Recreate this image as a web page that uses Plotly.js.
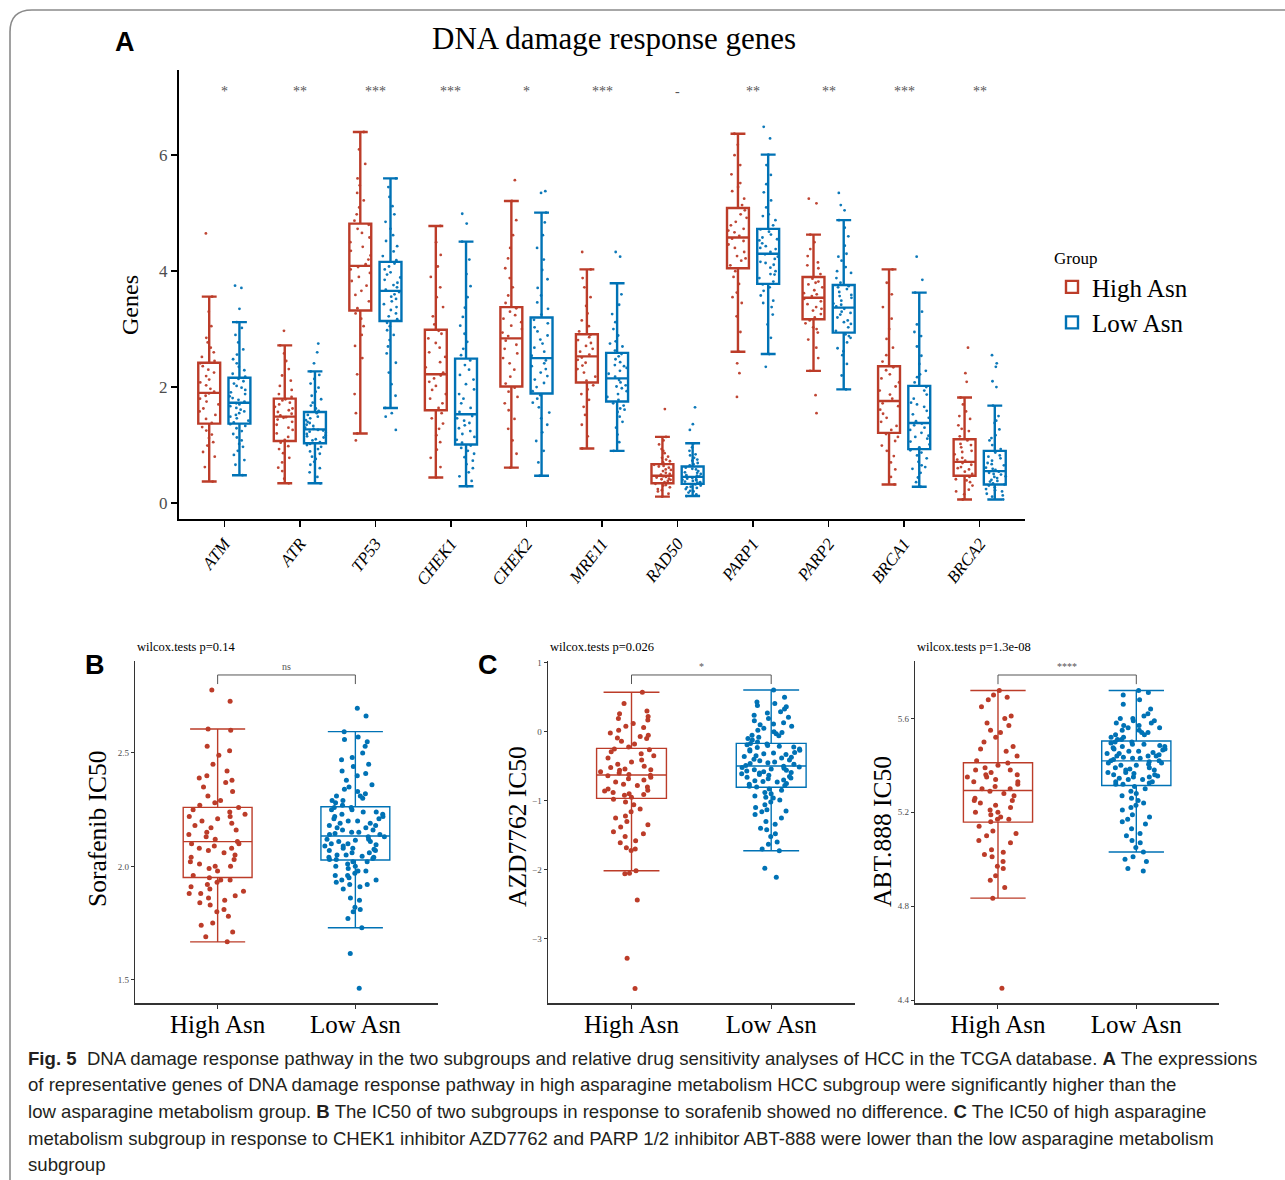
<!DOCTYPE html>
<html>
<head>
<meta charset="utf-8">
<script src="https://cdn.plot.ly/plotly-3.0.1.min.js"></script>
<style>
html,body{margin:0;padding:0;background:#fff;}
#chart{width:1285px;height:1180px;}
</style>
</head>
<body>
<div id="chart"></div>
<script>
// ---------------- Panel A data ----------------
const genes = ['ATM','ATR','TP53','CHEK1','CHEK2','MRE11','RAD50','PARP1','PARP2','BRCA1','BRCA2'];
const sigLabels = ['*','**','***','***','*','***','-','**','**','***','**'];
const groupNames = ['High Asn','Low Asn'];

const highLower  = [0.37,0.34,1.20,0.44,0.61,0.94,0.11,2.61,2.28,0.32,0.06];
const highQ1     = [1.37,1.07,3.32,1.60,2.01,2.08,0.34,4.05,3.17,1.21,0.47];
const highMedian = [1.90,1.49,4.09,2.22,2.84,2.53,0.47,4.58,3.54,1.76,0.71];
const highQ3     = [2.42,1.80,4.82,2.99,3.38,2.91,0.67,5.09,3.90,2.36,1.10];
const highUpper  = [3.56,2.72,6.40,4.78,5.21,4.03,1.14,6.37,4.63,4.03,1.82];

const lowLower  = [0.48,0.34,1.64,0.29,0.47,0.90,0.12,2.57,1.96,0.28,0.06];
const lowQ1     = [1.37,1.03,3.14,1.01,1.89,1.75,0.33,3.78,2.94,0.93,0.32];
const lowMedian = [1.73,1.27,3.66,1.53,2.50,2.15,0.45,4.30,3.37,1.38,0.55];
const lowQ3     = [2.16,1.57,4.16,2.49,3.20,2.59,0.63,4.73,3.76,2.02,0.90];
const lowUpper  = [3.12,2.27,5.60,4.51,5.01,3.79,1.03,6.01,4.88,3.63,1.68];

// sample points (one list per gene, same order as genes)
const highPoints = [
 [0.37,0.62,0.80,0.88,0.99,1.05,1.12,1.18,1.25,1.31,1.38,1.45,1.52,1.58,1.63,1.70,1.75,1.80,1.85,1.89,1.92,1.97,2.03,2.08,2.13,2.19,2.25,2.30,2.36,2.41,2.45,2.52,2.60,2.68,2.77,2.85,3.05,3.30,3.56,4.65],
 [0.34,0.42,0.55,0.61,0.70,0.78,0.86,0.93,0.98,1.04,1.09,1.14,1.20,1.26,1.30,1.35,1.40,1.44,1.47,1.48,1.51,1.54,1.57,1.60,1.63,1.66,1.70,1.73,1.77,1.79,1.83,1.88,1.95,2.02,2.11,2.20,2.31,2.45,2.58,2.72,2.97],
 [1.08,1.20,1.55,1.88,2.22,2.50,2.71,2.90,3.05,3.18,3.27,3.36,3.48,3.59,3.66,3.75,3.83,3.90,3.97,4.03,4.07,4.12,4.20,4.27,4.35,4.42,4.50,4.58,4.66,4.73,4.80,4.87,4.98,5.10,5.22,5.35,5.48,5.60,5.85,6.10,6.40],
 [0.44,0.62,0.78,0.92,1.05,1.17,1.28,1.37,1.46,1.55,1.64,1.72,1.80,1.88,1.95,2.02,2.09,2.15,2.20,2.25,2.34,2.43,2.52,2.60,2.68,2.76,2.84,2.92,2.97,3.08,3.22,3.38,3.55,3.72,3.90,4.08,4.28,4.50,4.78],
 [0.61,0.85,1.08,1.28,1.45,1.60,1.72,1.83,1.92,1.99,2.06,2.18,2.30,2.41,2.50,2.58,2.66,2.73,2.80,2.88,2.94,3.00,3.06,3.12,3.18,3.24,3.30,3.36,3.45,3.58,3.72,3.88,4.05,4.22,4.40,4.62,4.88,5.21,5.57],
 [0.94,1.15,1.35,1.52,1.66,1.78,1.88,1.96,2.03,2.11,2.18,2.25,2.31,2.37,2.42,2.47,2.51,2.56,2.61,2.66,2.71,2.76,2.81,2.86,2.90,2.96,3.05,3.15,3.27,3.40,3.55,3.72,3.88,4.03,4.33],
 [0.11,0.16,0.20,0.22,0.24,0.27,0.30,0.31,0.33,0.36,0.38,0.40,0.41,0.42,0.44,0.45,0.46,0.49,0.50,0.52,0.55,0.57,0.58,0.61,0.63,0.64,0.66,0.70,0.72,0.75,0.78,0.80,0.86,0.90,0.93,1.01,1.08,1.14,1.62],
 [1.83,2.24,2.41,2.61,2.95,3.22,3.45,3.55,3.63,3.78,3.90,4.00,4.10,4.18,4.22,4.26,4.33,4.40,4.46,4.52,4.56,4.61,4.67,4.70,4.73,4.79,4.85,4.92,4.98,5.05,5.14,5.25,5.38,5.45,5.52,5.67,5.83,6.00,6.18,6.37],
 [1.55,1.86,2.28,2.50,2.68,2.82,2.94,3.00,3.03,3.10,3.15,3.20,3.26,3.32,3.35,3.38,3.43,3.48,3.52,3.57,3.60,3.62,3.67,3.72,3.77,3.80,3.82,3.87,3.95,4.05,4.10,4.15,4.26,4.38,4.50,4.63,5.17,5.25],
 [0.32,0.45,0.58,0.70,0.81,0.90,0.99,1.07,1.14,1.19,1.26,1.33,1.40,1.47,1.54,1.61,1.67,1.72,1.80,1.87,1.94,2.01,2.08,2.15,2.22,2.29,2.34,2.44,2.55,2.68,2.83,3.00,3.18,3.38,3.60,3.80,4.03],
 [0.06,0.15,0.20,0.23,0.30,0.36,0.39,0.41,0.45,0.50,0.54,0.58,0.60,0.62,0.66,0.69,0.73,0.75,0.78,0.84,0.88,0.90,0.96,1.00,1.02,1.08,1.15,1.24,1.28,1.34,1.45,1.50,1.58,1.70,1.82,2.09,2.24,2.68]
];
const lowPoints = [
 [0.48,0.66,0.74,0.83,0.90,0.97,1.02,1.08,1.13,1.19,1.24,1.29,1.33,1.36,1.39,1.42,1.46,1.49,1.52,1.55,1.58,1.61,1.64,1.67,1.70,1.72,1.75,1.78,1.81,1.84,1.88,1.91,1.95,1.99,2.02,2.06,2.10,2.14,2.18,2.23,2.29,2.35,2.41,2.48,2.56,2.65,2.77,2.90,3.02,3.12,3.35,3.71,3.75],
 [0.34,0.45,0.53,0.60,0.66,0.71,0.76,0.80,0.85,0.89,0.93,0.97,1.00,1.02,1.05,1.08,1.10,1.13,1.15,1.17,1.19,1.21,1.23,1.25,1.26,1.28,1.30,1.33,1.35,1.38,1.40,1.43,1.46,1.49,1.52,1.55,1.59,1.63,1.68,1.73,1.79,1.85,1.92,1.99,2.06,2.14,2.21,2.27,2.41,2.60,2.75],
 [1.26,1.49,1.55,1.64,1.85,2.05,2.25,2.42,2.58,2.70,2.81,2.90,2.98,3.05,3.11,3.17,3.22,3.27,3.33,3.38,3.43,3.48,3.52,3.56,3.60,3.64,3.68,3.72,3.76,3.80,3.85,3.89,3.94,3.98,4.03,4.08,4.13,4.19,4.26,4.34,4.43,4.52,4.62,4.73,4.85,4.98,5.12,5.28,5.45,5.60],
 [0.29,0.38,0.46,0.53,0.60,0.67,0.73,0.79,0.85,0.90,0.95,0.99,1.04,1.09,1.14,1.19,1.24,1.29,1.34,1.38,1.42,1.46,1.50,1.57,1.64,1.72,1.80,1.88,1.96,2.05,2.13,2.21,2.30,2.38,2.46,2.55,2.66,2.78,2.92,3.06,3.21,3.37,3.55,3.74,3.95,4.20,4.51,4.82,4.99],
 [0.47,0.70,0.90,1.07,1.22,1.35,1.46,1.56,1.65,1.73,1.80,1.86,1.93,2.00,2.07,2.13,2.19,2.25,2.31,2.36,2.41,2.46,2.54,2.61,2.68,2.75,2.82,2.89,2.96,3.03,3.10,3.16,3.25,3.35,3.46,3.58,3.71,3.86,4.02,4.20,4.40,4.62,4.84,5.01,5.35,5.38],
 [0.90,1.05,1.18,1.30,1.40,1.49,1.57,1.61,1.63,1.68,1.72,1.78,1.83,1.88,1.93,1.98,2.01,2.03,2.08,2.12,2.18,2.23,2.28,2.33,2.36,2.38,2.43,2.48,2.53,2.57,2.63,2.70,2.75,2.79,2.89,3.00,3.12,3.26,3.42,3.60,3.79,4.25,4.33],
 [0.12,0.15,0.18,0.20,0.21,0.24,0.26,0.27,0.28,0.30,0.32,0.34,0.35,0.36,0.37,0.38,0.39,0.40,0.41,0.42,0.43,0.44,0.46,0.47,0.48,0.50,0.52,0.53,0.55,0.58,0.59,0.61,0.65,0.67,0.69,0.73,0.75,0.78,0.82,0.84,0.90,0.96,1.03,1.26,1.36,1.65],
 [2.35,2.57,2.85,3.08,3.25,3.38,3.45,3.49,3.58,3.66,3.72,3.77,3.82,3.88,3.94,3.95,4.00,4.06,4.11,4.14,4.16,4.21,4.25,4.29,4.33,4.38,4.40,4.43,4.48,4.53,4.55,4.58,4.63,4.68,4.72,4.79,4.88,4.95,4.98,5.10,5.22,5.36,5.50,5.66,5.83,6.01,6.29,6.49],
 [1.96,2.20,2.40,2.55,2.62,2.67,2.77,2.85,2.88,2.91,2.97,3.03,3.09,3.12,3.15,3.20,3.25,3.28,3.30,3.35,3.39,3.42,3.44,3.49,3.54,3.57,3.59,3.64,3.69,3.72,3.74,3.80,3.88,3.97,4.00,4.07,4.18,4.25,4.30,4.44,4.60,4.75,4.88,5.05,5.14,5.35],
 [0.28,0.36,0.44,0.52,0.59,0.62,0.65,0.71,0.77,0.82,0.87,0.91,0.96,1.01,1.06,1.11,1.14,1.16,1.21,1.26,1.30,1.34,1.37,1.41,1.47,1.53,1.59,1.66,1.70,1.73,1.80,1.87,1.94,2.00,2.08,2.17,2.22,2.28,2.40,2.54,2.70,2.88,2.95,3.08,3.30,3.63,3.85,4.25],
 [0.06,0.11,0.13,0.16,0.20,0.22,0.24,0.27,0.30,0.32,0.34,0.37,0.38,0.40,0.43,0.45,0.46,0.49,0.50,0.52,0.54,0.57,0.59,0.61,0.65,0.67,0.69,0.73,0.77,0.80,0.82,0.87,0.93,1.00,1.08,1.12,1.17,1.27,1.38,1.42,1.50,1.68,2.00,2.10,2.35,2.41,2.55]
];

// ---------------- Panels B / C data ----------------
// box stats order: [lowerfence, q1, median, q3, upperfence]
const sorafenibHighBox = [1.667,1.951,2.109,2.260,2.606];
const sorafenibLowBox  = [1.729,2.028,2.134,2.263,2.594];
const azdHighBox = [-2.014,-0.966,-0.628,-0.241,0.571];
const azdLowBox  = [-1.725,-0.806,-0.497,-0.169,0.604];
const abtHighBox = [4.834,5.158,5.293,5.411,5.719];
const abtLowBox  = [5.031,5.314,5.419,5.504,5.719];

const sorafenibHigh = [1.667,1.69,1.71,1.74,1.75,1.78,1.80,1.81,1.83,1.84,1.85,1.86,1.87,1.88,1.88,1.89,1.90,1.91,1.92,1.93,1.94,1.94,1.95,1.96,1.98,1.99,2.00,2.00,2.01,2.02,2.03,2.04,2.05,2.06,2.07,2.08,2.08,2.09,2.10,2.10,2.11,2.12,2.13,2.14,2.15,2.16,2.17,2.18,2.19,2.20,2.21,2.22,2.22,2.23,2.24,2.25,2.26,2.27,2.28,2.29,2.31,2.33,2.35,2.37,2.38,2.39,2.40,2.42,2.45,2.49,2.51,2.53,2.60,2.606,2.728,2.778];
const sorafenibLow = [1.462,1.616,1.729,1.77,1.80,1.81,1.82,1.85,1.86,1.90,1.91,1.92,1.92,1.93,1.94,1.94,1.95,1.96,1.96,1.97,1.98,1.98,1.99,2.00,2.00,2.01,2.02,2.02,
 2.03,2.03,2.035,2.04,2.04,2.045,2.05,2.05,2.06,2.06,2.07,2.07,2.075,2.08,2.08,2.09,2.09,2.095,2.10,2.10,2.11,2.11,2.115,2.12,2.12,2.13,2.13,
 2.14,2.14,2.145,2.15,2.15,2.16,2.16,2.17,2.17,2.18,2.18,2.19,2.19,2.20,2.20,2.21,2.21,2.22,2.22,2.23,2.23,2.24,2.24,2.25,2.25,2.26,2.26,
 2.27,2.28,2.29,2.29,2.30,2.31,2.31,2.32,2.33,2.34,2.35,2.36,2.38,2.40,2.41,2.42,2.44,2.45,2.47,2.48,2.50,2.53,2.55,2.56,2.57,2.594,2.663,2.697];
const azdHigh = [-3.72,-3.284,-2.44,-2.06,-2.05,-2.014,-1.72,-1.70,-1.68,-1.61,-1.58,-1.52,-1.48,-1.45,-1.38,-1.35,-1.30,-1.25,-1.22,-1.16,-1.12,-1.06,-1.02,-0.98,
 -0.95,-0.92,-0.91,-0.90,-0.88,-0.86,-0.85,-0.83,-0.80,-0.78,-0.76,-0.73,-0.70,-0.68,-0.66,-0.64,-0.63,
 -0.62,-0.60,-0.58,-0.56,-0.55,-0.54,-0.52,-0.50,-0.47,-0.44,-0.41,-0.38,-0.35,-0.32,-0.29,-0.26,-0.25,
 -0.22,-0.18,-0.14,-0.10,-0.09,-0.07,-0.05,-0.02,0.02,0.06,0.08,0.12,0.17,0.19,0.22,0.26,0.30,0.41,0.571];
const azdLow = [-2.11,-1.98,-1.725,-1.70,-1.63,-1.60,-1.52,-1.48,-1.42,-1.40,-1.34,-1.30,-1.25,-1.20,-1.16,-1.15,-1.13,-1.10,-1.06,-1.02,-0.99,-0.96,-0.95,-0.93,-0.90,-0.88,-0.85,-0.83,
 -0.80,-0.79,-0.78,-0.76,-0.75,-0.73,-0.72,-0.71,-0.70,-0.68,-0.67,-0.66,-0.65,-0.63,-0.62,-0.61,-0.60,-0.59,-0.58,-0.57,-0.56,-0.55,-0.54,-0.53,-0.52,-0.51,-0.50,
 -0.49,-0.47,-0.46,-0.45,-0.44,-0.42,-0.41,-0.40,-0.38,-0.37,-0.36,-0.35,-0.33,-0.32,-0.31,-0.30,-0.28,-0.27,-0.26,-0.25,-0.23,-0.22,-0.21,-0.20,-0.19,-0.18,-0.17,
 -0.15,-0.12,-0.10,-0.08,-0.06,-0.05,-0.03,-0.01,0.00,0.02,0.05,0.08,0.10,0.11,0.13,0.16,0.19,0.21,0.24,0.27,0.29,0.33,0.36,0.38,0.41,0.43,0.50,0.604];
const abtHigh = [4.45,4.834,4.88,4.91,4.93,4.96,4.97,4.99,5.01,5.02,5.03,5.04,5.07,5.08,5.10,5.11,5.12,5.14,
 5.16,5.17,5.17,5.18,5.19,5.20,5.20,5.21,5.22,5.23,5.24,5.25,5.25,5.26,5.27,5.28,5.29,
 5.30,5.30,5.31,5.32,5.33,5.33,5.34,5.35,5.35,5.36,5.36,5.37,5.38,5.38,5.39,5.40,5.41,
 5.42,5.44,5.46,5.47,5.48,5.50,5.52,5.54,5.55,5.57,5.58,5.60,5.61,5.65,5.68,5.69,5.70,5.719];
const abtLow = [4.95,4.96,4.99,5.00,5.01,5.031,5.05,5.07,5.08,5.10,5.11,5.13,5.15,5.16,5.17,5.18,5.19,5.21,5.22,5.23,5.24,5.25,5.26,5.27,5.28,5.29,5.30,5.31,
 5.32,5.32,5.325,5.33,5.33,5.34,5.34,5.345,5.35,5.35,5.355,5.36,5.36,5.365,5.37,5.37,5.38,5.38,5.385,5.39,5.39,5.40,5.40,5.405,5.41,5.41,5.415,
 5.42,5.42,5.425,5.43,5.43,5.435,5.44,5.44,5.44,5.445,5.45,5.45,5.455,5.46,5.46,5.465,5.47,5.47,5.475,5.48,5.48,5.485,5.49,5.49,5.495,5.50,5.50,
 5.51,5.51,5.52,5.52,5.53,5.53,5.54,5.54,5.55,5.55,5.56,5.56,5.57,5.57,5.58,5.58,5.59,5.59,5.60,5.60,5.61,5.62,5.64,5.66,5.68,5.70,5.71,5.719];

const pTexts = ['wilcox.tests p=0.14','wilcox.tests p=0.026','wilcox.tests p=1.3e-08'];
const drugSig = ['ns','*','****'];
const drugTitles = ['Sorafenib IC50','AZD7762 IC50','ABT.888 IC50'];

// ---------------- Build figure ----------------
const RED = '#BC3C29', BLUE = '#0072B5';
const SERIF = 'Liberation Serif, Times New Roman, serif';
const traces = [];

function flat(cats, lists){
  const xs=[], ys=[];
  cats.forEach((c,i)=>lists[i].forEach(v=>{xs.push(c); ys.push(v);}));
  return {xs, ys};
}

// Panel A stats boxes
[[groupNames[0],RED,'hi',highLower,highQ1,highMedian,highQ3,highUpper],
 [groupNames[1],BLUE,'lo',lowLower,lowQ1,lowMedian,lowQ3,lowUpper]].forEach(s=>{
  traces.push({
    type:'box', name:s[0], x:genes, lowerfence:s[3], q1:s[4], median:s[5], q3:s[6], upperfence:s[7],
    boxpoints:false, line:{color:s[1], width:2.4}, fillcolor:'rgba(255,255,255,0)',
    whiskerwidth:0.68, offsetgroup:s[2], alignmentgroup:'A', xaxis:'x', yaxis:'y',
    showlegend:true, hoverinfo:'skip'
  });
});
// Panel A jittered points
[[highPoints,RED,'hi'],[lowPoints,BLUE,'lo']].forEach(s=>{
  const f = flat(genes, s[0]);
  traces.push({
    type:'box', x:f.xs, y:f.ys, boxpoints:'all', jitter:1, pointpos:0,
    marker:{color:s[1], size:2.8, opacity:0.95},
    line:{color:'rgba(0,0,0,0)', width:0}, fillcolor:'rgba(0,0,0,0)',
    offsetgroup:s[2], alignmentgroup:'A', xaxis:'x', yaxis:'y',
    showlegend:false, hoverinfo:'skip'
  });
});

// Panels B / C
const drugData = [
  [sorafenibHigh, sorafenibLow, sorafenibHighBox, sorafenibLowBox],
  [azdHigh, azdLow, azdHighBox, azdLowBox],
  [abtHigh, abtLow, abtHighBox, abtLowBox]
];
drugData.forEach((d,k)=>{
  const xa = 'x'+(k+2), ya = 'y'+(k+2);
  [[0,RED],[1,BLUE]].forEach(([g,col])=>{
    const b = d[2+g];
    traces.push({
      type:'box', x:[groupNames[g]], lowerfence:[b[0]], q1:[b[1]], median:[b[2]], q3:[b[3]], upperfence:[b[4]],
      boxpoints:false, width:0.5, whiskerwidth:0.8, line:{color:col, width:1.4},
      fillcolor:'rgba(255,255,255,0)', xaxis:xa, yaxis:ya, offsetgroup:'d'+k, alignmentgroup:'d'+k,
      showlegend:false, hoverinfo:'skip'
    });
  });
  [[0,RED],[1,BLUE]].forEach(([g,col])=>{
    const pts = d[g];
    traces.push({
      type:'box', x:pts.map(()=>groupNames[g]), y:pts, boxpoints:'all', jitter:0.9, pointpos:0, width:0.5,
      marker:{color:col, size:5}, line:{color:'rgba(0,0,0,0)', width:0}, fillcolor:'rgba(0,0,0,0)',
      xaxis:xa, yaxis:ya, offsetgroup:'d'+k, alignmentgroup:'d'+k, showlegend:false, hoverinfo:'skip'
    });
  });
});

// ---------------- Layout ----------------
const W = 1285, H = 1180;
const px = v => v / W;
const py = v => 1 - v / H;

const smallAxis = (dom) => ({
  domain: dom, type:'category', categoryorder:'array', categoryarray: groupNames,
  range:[-0.6,1.6], autorange:false, showline:true, linecolor:'#333', linewidth:1.2,
  ticks:'outside', ticklen:4, tickwidth:1, tickcolor:'#333', showgrid:false, zeroline:false,
  ticklabelstandoff:-6,
  tickfont:{family:SERIF, size:25, color:'#000'}, fixedrange:true
});
const smallYAxis = (dom, anchor, range, tickvals, fmt) => ({
  domain: dom, anchor: anchor, range: range, autorange:false, showline:true, linecolor:'#333', linewidth:1.2,
  ticks:'outside', ticklen:3, tickwidth:1, tickcolor:'#333', showgrid:false, zeroline:false,
  tickvals: tickvals, tickformat: fmt, tickfont:{family:SERIF, size:9, color:'#4d4d4d'}
});

const yDomBC = [1 - 1003.3/H, 1 - 660.7/H];

const annotations = [];
// Title & panel letters
annotations.push({xref:'paper', yref:'paper', x:px(614), y:py(39), text:'DNA damage response genes', showarrow:false,
  font:{family:SERIF, size:31, color:'#000'}, xanchor:'center', yanchor:'middle'});
[['A',125,42],['B',95,665],['C',488,665]].forEach(l=>annotations.push({xref:'paper', yref:'paper', x:px(l[1]), y:py(l[2]),
  text:'<b>'+l[0]+'</b>', showarrow:false, font:{family:'Liberation Sans, Arial, sans-serif', size:27, color:'#000'}, xanchor:'center', yanchor:'middle'}));
// Panel A significance labels
genes.forEach((g,i)=>annotations.push({xref:'x', yref:'y', x:g, y:7.1, text:sigLabels[i], showarrow:false,
  font:{family:SERIF, size:14, color:'#555'}, xanchor:'center', yanchor:'middle'}));
// y titles
[['Genes',130,305,24],[drugTitles[0],97,829,25.5],[drugTitles[1],517,827,25.5],[drugTitles[2],882,832,25.5]].forEach(t=>annotations.push({
  xref:'paper', yref:'paper', x:px(t[1]), y:py(t[2]), text:t[0], textangle:-90, showarrow:false,
  font:{family:SERIF, size:t[3], color:'#000'}, xanchor:'center', yanchor:'middle'}));
// p-value texts
[[135,pTexts[0]],[548,pTexts[1]],[915,pTexts[2]]].forEach(t=>annotations.push({xref:'paper', yref:'paper', x:px(t[0]), y:py(647),
  text:t[1], showarrow:false, font:{family:SERIF, size:12.5, color:'#000'}, xanchor:'left', yanchor:'middle'}));

// brackets
const bracketTop = [2.844, 0.822, 5.785];
const bracketTip = [2.804, 0.691, 5.746];
const shapes = [];
[0,1,2].forEach(k=>{
  const xa='x'+(k+2), ya='y'+(k+2);
  const ln = {color:'#555', width:1};
  shapes.push({type:'line', xref:xa, yref:ya, x0:groupNames[0], x1:groupNames[1], y0:bracketTop[k], y1:bracketTop[k], line:ln});
  shapes.push({type:'line', xref:xa, yref:ya, x0:groupNames[0], x1:groupNames[0], y0:bracketTop[k], y1:bracketTip[k], line:ln});
  shapes.push({type:'line', xref:xa, yref:ya, x0:groupNames[1], x1:groupNames[1], y0:bracketTop[k], y1:bracketTip[k], line:ln});
  annotations.push({xref:xa, yref:ya, x:0.5, y:bracketTop[k], text:drugSig[k], showarrow:false, yanchor:'bottom', yshift:1,
    font:{family:SERIF, size:10, color:'#555'}});
});
// frame
shapes.push({type:'path', xref:'paper', yref:'paper', layer:'above',
  path:`M ${px(10)},${py(1185)} L ${px(10)},${py(32)} Q ${px(10)},${py(10)} ${px(32)},${py(10)} L ${px(1290)},${py(10)}`,
  line:{color:'#8a8a8a', width:1.6}});

// caption
const captionLines = [
  '<b>Fig. 5</b>&nbsp; DNA damage response pathway in the two subgroups and relative drug sensitivity analyses of HCC in the TCGA database. <b>A</b> The expressions',
  'of representative genes of DNA damage response pathway in high asparagine metabolism HCC subgroup were significantly higher than the',
  'low asparagine metabolism group. <b>B</b> The IC50 of two subgroups in response to sorafenib showed no difference. <b>C</b> The IC50 of high asparagine',
  'metabolism subgroup in response to CHEK1 inhibitor AZD7762 and PARP 1/2 inhibitor ABT-888 were lower than the low asparagine metabolism',
  'subgroup'
];
const capY = [1058,1084,1111,1138,1164];
captionLines.forEach((t,i)=>annotations.push({xref:'paper', yref:'paper', x:px(26), y:py(capY[i]), text:t, showarrow:false,
  xanchor:'left', yanchor:'middle', font:{family:'Liberation Sans, Arial, sans-serif', size:18.6, color:'#231f20'}}));

const layout = {
  width:W, height:H, margin:{l:0,r:0,t:0,b:0}, paper_bgcolor:'#fff', plot_bgcolor:'rgba(0,0,0,0)',
  font:{family:SERIF, color:'#000'},
  boxmode:'group', boxgap:0.2, boxgroupgap:0.275,
  showlegend:true,
  legend:{x:px(1052), y:py(242), xanchor:'left', yanchor:'top', bgcolor:'rgba(0,0,0,0)',
    title:{text:'Group', font:{family:SERIF, size:17, color:'#000'}},
    font:{family:SERIF, size:25, color:'#000'}, tracegroupgap:0, itemwidth:30},
  xaxis:{domain:[px(179), px(1025)], anchor:'y', type:'category', categoryorder:'array', categoryarray:genes,
    range:[-0.6,10.6], autorange:false, showline:true, linecolor:'#000', linewidth:2,
    ticks:'outside', ticklen:6, tickwidth:1.6, tickcolor:'#000', showgrid:false, zeroline:false, tickangle:-52,
    tickfont:{family:SERIF, size:17, color:'#000', style:'italic'}},
  yaxis:{domain:[1-519/H, 1-70/H], anchor:'x', range:[-0.276,7.47], autorange:false, showline:true, linecolor:'#000', linewidth:2,
    ticks:'outside', ticklen:6, tickwidth:1.6, tickcolor:'#000', showgrid:false, zeroline:false,
    tickvals:[0,2,4,6], tickfont:{family:SERIF, size:17, color:'#4d4d4d'}},
  xaxis2: Object.assign(smallAxis([px(135), px(438)]), {anchor:'y2'}),
  yaxis2: smallYAxis(yDomBC, 'x2', [1.396,2.907], [1.5,2.0,2.5], '.1f'),
  xaxis3: Object.assign(smallAxis([px(547.7), px(855)]), {anchor:'y3'}),
  yaxis3: smallYAxis(yDomBC, 'x3', [-3.936,1.029], [-3,-2,-1,0,1], 'd'),
  xaxis4: Object.assign(smallAxis([px(915), px(1219.3)]), {anchor:'y4'}),
  yaxis4: smallYAxis(yDomBC, 'x4', [4.386,5.846], [4.4,4.8,5.2,5.6], '.1f'),
  annotations: annotations,
  shapes: shapes
};

Plotly.newPlot('chart', traces, layout, {staticPlot:true, displayModeBar:false});
</script>
</body>
</html>
